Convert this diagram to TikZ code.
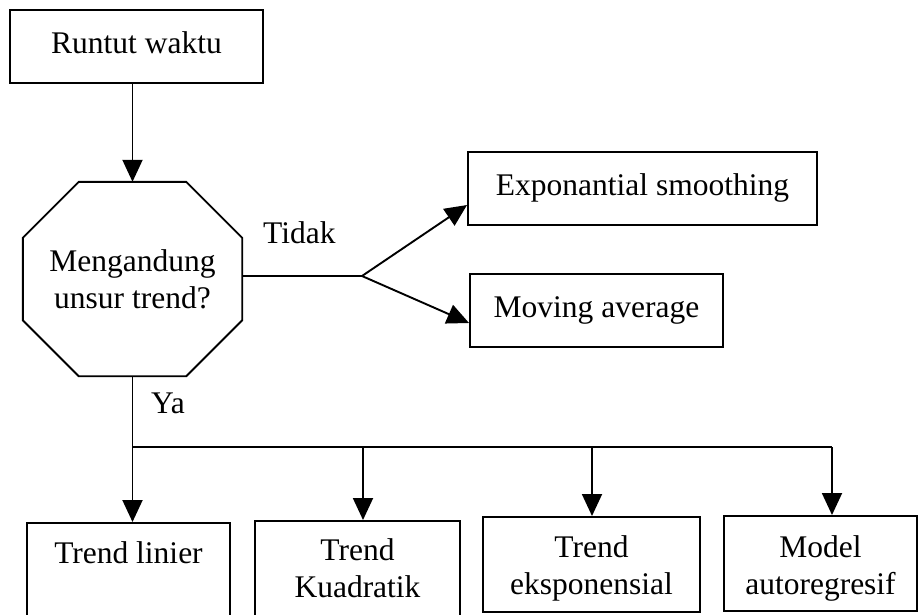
\documentclass[tikz,border=0pt]{standalone}
\usepackage{fontspec}
\setmainfont{Liberation Serif}
\usetikzlibrary{arrows.meta,calc}
\begin{document}
\begin{tikzpicture}[x=1pt,y=-1pt,
  every node/.style={font=\fontsize{31.5}{37}\selectfont},
  box/.style={draw, line width=1.9pt, inner sep=0pt},
  single/.style={box, text height=22pt, text depth=9pt},
  txt/.style={inner sep=0pt, anchor=base},
  line/.style={line width=1.9pt},
  arr/.style={line width=1.9pt, -{Triangle[length=22pt,width=20pt]}}]
\clip (0,0) rectangle (919,614);
% top part
\node[single, minimum width=253pt, minimum height=73pt] (run) at (136.5,46.5) {Runtut waktu};
\node[minimum width=219pt, minimum height=194pt, inner sep=0pt, align=center] (dec) at (132.5,279) {Mengandung\\unsur trend?};
\draw[line] ([xshift=56pt]dec.north west) -- ([xshift=-56pt]dec.north east)
  -- ([yshift=-56pt]dec.north east) -- ([yshift=56pt]dec.south east)
  -- ([xshift=-56pt]dec.south east) -- ([xshift=56pt]dec.south west)
  -- ([yshift=56pt]dec.south west) -- ([yshift=-56pt]dec.north west) -- cycle;
\draw[arr] (dec.north |- run.south) -- (dec.north);
% right branch
\node[single, minimum width=349pt, minimum height=73pt] (exp) at (642.5,188.5) {Exponantial smoothing};
\node[single, minimum width=253pt, minimum height=73pt] (mov) at (596.5,310.5) {Moving average};
\coordinate (split) at (362,276);
\draw[line] (dec.east |- split) -- (split);
\draw[arr] (split) -- ([yshift=-16.5pt]exp.west);
\draw[arr] (split) -- ([yshift=-12.5pt]mov.west);
\node[inner sep=0pt, anchor=base west] (tidak) at (263,243) {Tidak};
\node[inner sep=0pt, anchor=base west] (ya) at (151,413) {Ya};
% bottom boxes
\node[box, anchor=north, minimum width=203pt, minimum height=120pt] (tl) at (128.5,522) {};
\node[box, anchor=north, minimum width=205pt, minimum height=120pt] (tk) at (357.5,520) {};
\node[box, anchor=north, minimum width=217pt, minimum height=95pt] (te) at (591.5,516) {};
\node[box, anchor=north, minimum width=193pt, minimum height=95pt] (tm) at (820.5,515) {};
\node[txt] (tlt) at ([yshift=-41pt]tl.north) {Trend linier};
\node[txt] (tkt) at ([yshift=-40pt]tk.north) {\begin{tabular}[t]{@{}c@{}}Trend\\Kuadratik\end{tabular}};
\node[txt] (tet) at ([yshift=-41pt]te.north) {\begin{tabular}[t]{@{}c@{}}Trend\\eksponensial\end{tabular}};
\node[txt] (tmt) at ([yshift=-42pt]tm.north) {\begin{tabular}[t]{@{}c@{}}Model\\autoregresif\end{tabular}};
% bus
\coordinate (busy) at (0,447);
\coordinate (j2) at (363,447);
\coordinate (j3) at (592,447);
\coordinate (j4) at (832,447);
\draw[line] (dec.south |- busy) -- (j4);
\draw[arr] (dec.south) -- (dec.south |- tl.north);
\draw[arr] (j2) -- (j2 |- tk.north);
\draw[arr] (j3) -- (j3 |- te.north);
\draw[arr] (j4) -- (j4 |- tm.north);
\end{tikzpicture}
\end{document}
